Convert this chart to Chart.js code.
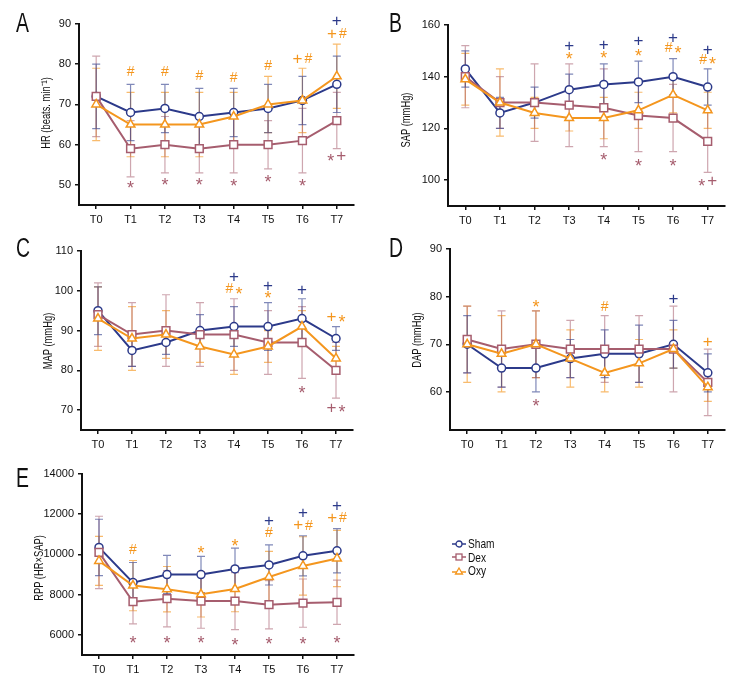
<!DOCTYPE html>
<html>
<head>
<meta charset="utf-8">
<script src="https://cdn.jsdelivr.net/npm/chart.js@4.4.1/dist/chart.umd.min.js"></script>
<style>
  body { margin: 0; background: #fff; }
  #page {
    position: relative; width: 756px; height: 696px; overflow: hidden;
    font-family: "Liberation Sans", Arial, sans-serif;
    color: #111;
  }
  #page canvas { position: absolute; left: 0; top: 0; }
  .letter {
    position: absolute; font-size: 27px; line-height: 1;
    transform: scaleX(0.72); transform-origin: left top;
  }
  .ytitle {
    position: absolute; font-size: 13px; line-height: 1; white-space: nowrap;
    transform: translate(-50%, -50%) rotate(-90deg) scaleX(0.72);
  }
  .legend { position: absolute; left: 452px; top: 537px; font-size: 13px; line-height: 13.5px; }
  .legend div { display: flex; align-items: center; }
  .legend svg { margin-right: 2px; }
  .legend span { display: inline-block; transform: scaleX(0.78); transform-origin: left center; }
</style>
</head>
<body>
<div id="page">
  <canvas id="chartA" width="756" height="696"></canvas>
  <canvas id="chartB" width="756" height="696"></canvas>
  <canvas id="chartC" width="756" height="696"></canvas>
  <canvas id="chartD" width="756" height="696"></canvas>
  <canvas id="chartE" width="756" height="696"></canvas>

  <div class="letter" style="left:16px; top:10px;">A</div>
  <div class="letter" style="left:389px; top:10px;">B</div>
  <div class="letter" style="left:16px; top:235px;">C</div>
  <div class="letter" style="left:389px; top:235px;">D</div>
  <div class="letter" style="left:16px; top:465px;">E</div>

  <div class="ytitle" style="left:45px; top:113px;">HR (beats. min⁻¹)</div>
  <div class="ytitle" style="left:405px; top:120px;">SAP (mmHg)</div>
  <div class="ytitle" style="left:47px; top:341px;">MAP (mmHg)</div>
  <div class="ytitle" style="left:416px; top:340px;">DAP (mmHg)</div>
  <div class="ytitle" style="left:38px; top:568px;">RPP (HR×SAP)</div>

  <div class="legend">
    <div><svg width="14" height="10"><line x1="0" y1="5" x2="14" y2="5" stroke="#2c3a8a" stroke-width="1.5"/><circle cx="7" cy="5" r="3" fill="#fff" stroke="#2c3a8a" stroke-width="1.3"/></svg><span>Sham</span></div>
    <div><svg width="14" height="10"><line x1="0" y1="5" x2="14" y2="5" stroke="#a65d6e" stroke-width="1.5"/><rect x="4" y="2" width="6" height="6" fill="#fff" stroke="#a65d6e" stroke-width="1.3"/></svg><span>Dex</span></div>
    <div><svg width="14" height="10"><line x1="0" y1="6" x2="14" y2="6" stroke="#f4961e" stroke-width="1.5"/><polygon points="7,2 10.5,8 3.5,8" fill="#fff" stroke="#f4961e" stroke-width="1.3"/></svg><span>Oxy</span></div>
  </div>
</div>

<script>
// time points
const timePoints = ['T0', 'T1', 'T2', 'T3', 'T4', 'T5', 'T6', 'T7'];

// HR (beats/min), mean and SD
const hrSham = [72, 68, 69, 67, 68, 69, 71, 75];
const hrShamSd = [8, 7, 6, 7, 6, 6, 6, 7];
const hrDex = [72, 59, 60, 59, 60, 60, 61, 66];
const hrDexSd = [10, 7, 7, 6, 7, 6, 8, 7];
const hrOxy = [70, 65, 65, 65, 67, 70, 71, 77];
const hrOxySd = [9, 8, 8, 8, 6, 7, 8, 8];
const hrTicks = [50, 60, 70, 80, 90];

// SAP (mmHg)
const sapSham = [143, 126, 130, 135, 137, 138, 140, 136];
const sapShamSd = [7, 6, 6, 6, 8, 8, 7, 7];
const sapDex = [140, 130, 130, 129, 128, 125, 124, 115];
const sapDexSd = [12, 10, 15, 16, 15, 14, 13, 12];
const sapOxy = [139, 130, 126, 124, 124, 127, 133, 127];
const sapOxySd = [10, 13, 6, 5, 8, 7, 7, 7];
const sapTicks = [100, 120, 140, 160];

// MAP (mmHg)
const mapSham = [95, 85, 87, 90, 91, 91, 93, 88];
const mapShamSd = [6, 4, 3, 4, 5, 6, 5, 3];
const mapDex = [94, 89, 90, 89, 89, 87, 87, 80];
const mapDexSd = [8, 8, 9, 8, 9, 8, 9, 7];
const mapOxy = [93, 88, 89, 86, 84, 86, 91, 83];
const mapOxySd = [8, 8, 6, 4, 5, 4, 4, 3];
const mapTicks = [70, 80, 90, 100, 110];

// DAP (mmHg)
const dapSham = [70, 65, 65, 67, 68, 68, 70, 64];
const dapShamSd = [6, 4, 5, 4, 5, 6, 5, 4];
const dapDex = [71, 69, 70, 69, 69, 69, 69, 62];
const dapDexSd = [7, 8, 7, 6, 7, 7, 9, 7];
const dapOxy = [70, 68, 70, 67, 64, 66, 69, 61];
const dapOxySd = [8, 8, 7, 6, 4, 5, 4, 3];
const dapTicks = [60, 70, 80, 90];

// RPP (HR x SAP)
const rppSham = [10350, 8600, 9000, 9000, 9280, 9480, 9930, 10180];
const rppShamSd = [1400, 1000, 950, 900, 1030, 1000, 1000, 1100];
const rppDex = [10100, 7650, 7800, 7680, 7680, 7500, 7580, 7620];
const rppDexSd = [1800, 1100, 1400, 1350, 1420, 1200, 1200, 1100];
const rppOxy = [9680, 8450, 8270, 8020, 8280, 8880, 9430, 9800];
const rppOxySd = [1220, 1250, 1130, 1130, 1130, 1270, 1450, 1400];
const rppTicks = [6000, 8000, 10000, 12000, 14000];

// significance marks: [time index, value, symbol, group]
const hrMarks = [
    [1, 78, '#', 'o'], [2, 78, '#', 'o'], [3, 77, '#', 'o'], [4, 76.5, '#', 'o'],
    [5, 79.5, '#', 'o'], [6, 81.3, '+#', 'o'], [7, 87.4, '+#', 'o'], [7, 90.7, '+', 's'],
    [1, 50.2, '*', 'd'], [2, 51, '*', 'd'], [3, 51, '*', 'd'], [4, 50.7, '*', 'd'],
    [5, 51.8, '*', 'd'], [6, 50.7, '*', 'd'], [7, 57, '*+', 'd']
];
const sapMarks = [
    [3, 151.6, '+', 's'], [3, 148.4, '*', 'o'],
    [4, 152, '+', 's'], [4, 148.8, '*', 'o'], [4, 109.5, '*', 'd'],
    [5, 153.7, '+', 's'], [5, 149.7, '*', 'o'], [5, 107, '*', 'd'],
    [6, 155, '+', 's'], [6, 151, '#*', 'o'], [6, 107.2, '*', 'd'],
    [7, 150.3, '+', 's'], [7, 146.5, '#*', 'o'], [7, 99.5, '*+', 'd']
];
const mapMarks = [
    [4, 103.3, '+', 's'], [4, 100.3, '#*', 'o'],
    [5, 101.2, '+', 's'], [5, 99.3, '*', 'o'],
    [6, 100, '+', 's'], [6, 75.3, '*', 'd'],
    [7, 93.3, '+*', 'o'], [7, 70.5, '+*', 'd']
];
const dapMarks = [
    [2, 78.8, '*', 'o'], [2, 58, '*', 'd'], [4, 77.8, '#', 'o'],
    [6, 79.4, '+', 's'], [7, 70.5, '+', 'o']
];
const rppMarks = [
    [1, 10233, '#', 'o'], [3, 10266, '*', 'o'], [4, 10647, '*', 'o'],
    [5, 11627, '+', 's'], [5, 11062, '#', 'o'],
    [6, 12025, '+', 's'], [6, 11427, '+#', 'o'],
    [7, 12390, '+', 's'], [7, 11809, '+#', 'o'],
    [1, 5834, '*', 'd'], [2, 5834, '*', 'd'], [3, 5834, '*', 'd'], [4, 5701, '*', 'd'],
    [5, 5750, '*', 'd'], [6, 5750, '*', 'd'], [7, 5834, '*', 'd']
];

const FONT = '"Liberation Sans", Arial, sans-serif';
const W = 756, H = 696;
const Y_W = 50, X_H = 25;

const groupStyle = {
    s: { color: '#2c3a8a', bar: 'rgba(44,58,138,0.6)', shape: 'circle', r: 4 },
    d: { color: '#a65d6e', bar: 'rgba(166,93,110,0.55)', shape: 'rect', r: 5.5 },
    o: { color: '#f4961e', bar: 'rgba(244,150,30,0.65)', shape: 'triangle', r: 5 }
};

// glyph sizes for the significance symbols
const symbolSize = { '*': 18, '+': 17, '#': 14 };

// draws mean +/- SD whiskers behind the lines
const errorBars = {
    id: 'errorBars',
    beforeDatasetsDraw(chart) {
        const ctx = chart.ctx;
        const yScale = chart.scales.y;
        chart.data.datasets.forEach((ds, i) => {
            const meta = chart.getDatasetMeta(i);
            ctx.save();
            ctx.strokeStyle = ds.barColor;
            ctx.lineWidth = 1.2;
            meta.data.forEach((pt, j) => {
                const top = yScale.getPixelForValue(ds.data[j] + ds.sd[j]);
                const bot = yScale.getPixelForValue(ds.data[j] - ds.sd[j]);
                ctx.beginPath();
                ctx.moveTo(pt.x, top); ctx.lineTo(pt.x, bot);
                ctx.moveTo(pt.x - 4, top); ctx.lineTo(pt.x + 4, top);
                ctx.moveTo(pt.x - 4, bot); ctx.lineTo(pt.x + 4, bot);
                ctx.stroke();
            });
            ctx.restore();
        });
    }
};

// significance symbols (* # +)
const sigMarks = {
    id: 'sigMarks',
    afterDatasetsDraw(chart, args, opts) {
        const ctx = chart.ctx;
        const xs = chart.scales.x, ys = chart.scales.y;
        ctx.save();
        ctx.textAlign = 'left';
        ctx.textBaseline = 'middle';
        opts.items.forEach(([i, v, txt, g]) => {
            ctx.fillStyle = groupStyle[g].color;
            const chars = txt.split('');
            const gap = 2;
            const widths = chars.map(c => {
                ctx.font = symbolSize[c] + 'px ' + FONT;
                return ctx.measureText(c).width;
            });
            const total = widths.reduce((a, b) => a + b, 0) + gap * (chars.length - 1);
            let x = xs.getPixelForValue(i) - total / 2;
            const y = ys.getPixelForValue(v);
            chars.forEach((c, k) => {
                // asterisk glyph sits high, pull it down to the centre line
                ctx.font = symbolSize[c] + 'px ' + FONT;
                ctx.fillText(c, x, y + (c === '*' ? symbolSize[c] * 0.3 : 0));
                x += widths[k] + gap;
            });
        });
        ctx.restore();
    }
};

function makePanel(canvasId, area, yMin, yMax, yTicks, series, marks) {
    const datasets = series.map(s => {
        const st = groupStyle[s.group];
        return {
            label: s.name,
            data: s.data,
            sd: s.sd,
            barColor: st.bar,
            borderColor: st.color,
            borderWidth: 2,
            pointStyle: st.shape,
            pointRadius: st.r,
            pointBorderWidth: 1.5,
            pointBorderColor: st.color,
            pointBackgroundColor: '#fff',
            tension: 0
        };
    });

    new Chart(document.getElementById(canvasId), {
        type: 'line',
        data: { labels: timePoints, datasets: datasets },
        options: {
            responsive: false,
            animation: false,
            events: [],
            layout: {
                padding: {
                    left: area.left - Y_W,
                    top: area.top,
                    right: W - area.right,
                    bottom: H - area.bottom - X_H
                }
            },
            plugins: {
                legend: { display: false },
                tooltip: { enabled: false },
                sigMarks: { items: marks }
            },
            scales: {
                x: {
                    offset: true,
                    grid: { display: true, drawOnChartArea: false, tickLength: 4, color: '#111', lineWidth: 1.5 },
                    border: { display: true, color: '#111', width: 2 },
                    ticks: { color: '#111', font: { family: FONT, size: 11 }, padding: 4, maxRotation: 0 },
                    afterFit: scale => { scale.height = X_H; }
                },
                y: {
                    min: yMin,
                    max: yMax,
                    afterBuildTicks: scale => { scale.ticks = yTicks.map(v => ({ value: v })); },
                    grid: { display: true, drawOnChartArea: false, tickLength: 4, color: '#111', lineWidth: 1.5 },
                    border: { display: true, color: '#111', width: 2 },
                    ticks: {
                        color: '#111',
                        font: { family: FONT, size: 11 },
                        padding: 4,
                        callback: value => String(value)
                    },
                    afterFit: scale => { scale.width = Y_W; }
                }
            }
        },
        plugins: [errorBars, sigMarks]
    });
}

makePanel('chartA', { left: 79, right: 354, top: 24, bottom: 205 }, 45, 90, hrTicks, [
    { name: 'Oxy', group: 'o', data: hrOxy, sd: hrOxySd },
    { name: 'Dex', group: 'd', data: hrDex, sd: hrDexSd },
    { name: 'Sham', group: 's', data: hrSham, sd: hrShamSd }
], hrMarks);

makePanel('chartB', { left: 448, right: 725, top: 25, bottom: 206 }, 90, 160, sapTicks, [
    { name: 'Oxy', group: 'o', data: sapOxy, sd: sapOxySd },
    { name: 'Dex', group: 'd', data: sapDex, sd: sapDexSd },
    { name: 'Sham', group: 's', data: sapSham, sd: sapShamSd }
], sapMarks);

makePanel('chartC', { left: 81, right: 353, top: 251, bottom: 430 }, 65, 110, mapTicks, [
    { name: 'Oxy', group: 'o', data: mapOxy, sd: mapOxySd },
    { name: 'Dex', group: 'd', data: mapDex, sd: mapDexSd },
    { name: 'Sham', group: 's', data: mapSham, sd: mapShamSd }
], mapMarks);

makePanel('chartD', { left: 450, right: 725, top: 249, bottom: 430 }, 52, 90, dapTicks, [
    { name: 'Oxy', group: 'o', data: dapOxy, sd: dapOxySd },
    { name: 'Dex', group: 'd', data: dapDex, sd: dapDexSd },
    { name: 'Sham', group: 's', data: dapSham, sd: dapShamSd }
], dapMarks);

makePanel('chartE', { left: 82, right: 354, top: 474, bottom: 655 }, 5000, 14000, rppTicks, [
    { name: 'Oxy', group: 'o', data: rppOxy, sd: rppOxySd },
    { name: 'Dex', group: 'd', data: rppDex, sd: rppDexSd },
    { name: 'Sham', group: 's', data: rppSham, sd: rppShamSd }
], rppMarks);
</script>
</body>
</html>
